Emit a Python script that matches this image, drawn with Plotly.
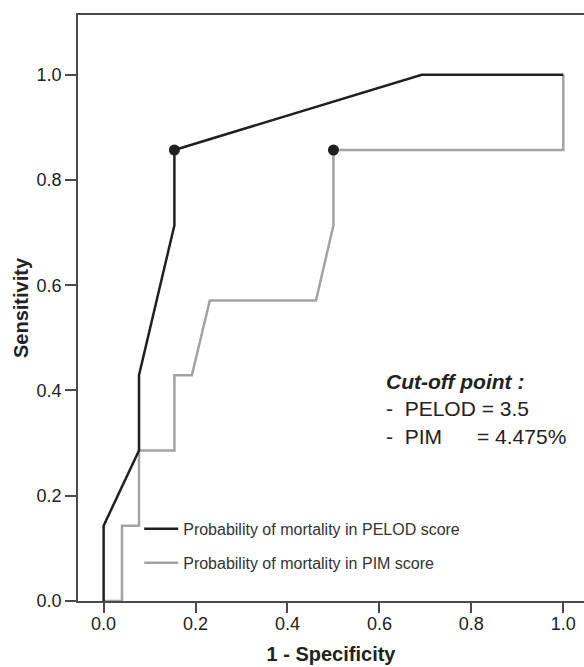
import plotly.graph_objects as go

# ROC data (1 - specificity, sensitivity)
pelod_fpr = [0.0, 0.0, 0.077, 0.077, 0.154, 0.154, 0.692, 1.0]
pelod_tpr = [0.0, 0.143, 0.286, 0.429, 0.714, 0.857, 1.0, 1.0]

pim_fpr = [0.0, 0.04, 0.04, 0.077, 0.077, 0.154, 0.154, 0.192, 0.231, 0.462, 0.5, 0.5, 1.0, 1.0]
pim_tpr = [0.0, 0.0, 0.143, 0.143, 0.286, 0.286, 0.429, 0.429, 0.571, 0.571, 0.714, 0.857, 0.857, 1.0]

cut_fpr = [0.154, 0.5]
cut_tpr = [0.857, 0.857]

x_ticks = [0.0, 0.2, 0.4, 0.6, 0.8, 1.0]
y_ticks = [0.0, 0.2, 0.4, 0.6, 0.8, 1.0]

FONT = "Liberation Sans, Arial, sans-serif"
BLACK = "#231f20"
GRAY = "#a3a3a3"
AXIS = "#4a4a4a"

fig = go.Figure()
fig.add_trace(go.Scatter(x=pim_fpr, y=pim_tpr, mode="lines", line=dict(color=GRAY, width=2.5),
                         name="Probability of mortality in PIM score", legendgroup="b", legendrank=2))
fig.add_trace(go.Scatter(x=pelod_fpr, y=pelod_tpr, mode="lines", line=dict(color=BLACK, width=2.5),
                         name="Probability of mortality in PELOD score", legendgroup="a", legendrank=1))
fig.add_trace(go.Scatter(x=cut_fpr, y=cut_tpr, mode="markers", marker=dict(color=BLACK, size=11),
                         showlegend=False, cliponaxis=False))

ann_font = dict(family=FONT, size=21, color="#222")
NB = "\u00a0"
fig.add_annotation(x=0.610, y=0.4167, xref="x", yref="y", text="<b><i>Cut-off point :</i></b>",
                   showarrow=False, xanchor="left", yanchor="middle", font=ann_font)
fig.add_annotation(x=0.610, y=0.3658, xref="x", yref="y", text="-" + NB * 2 + "PELOD = 3.5",
                   showarrow=False, xanchor="left", yanchor="middle", font=ann_font)
fig.add_annotation(x=0.610, y=0.3122, xref="x", yref="y", text="-" + NB * 2 + "PIM" + NB * 6 + "= 4.475%",
                   showarrow=False, xanchor="left", yanchor="middle", font=ann_font)

fig.update_layout(
    width=584, height=667,
    margin=dict(l=78, r=0, t=15, b=66),
    paper_bgcolor="white", plot_bgcolor="white",
    font=dict(family=FONT, color="#222"),
    showlegend=True,
    legend=dict(x=0.121, y=0.152, xanchor="left", yanchor="top", bgcolor="rgba(0,0,0,0)",
                font=dict(family=FONT, size=16, color="#333"), traceorder="grouped",
                tracegroupgap=10, itemwidth=34),
    xaxis=dict(range=[-0.0557, 1.045], tickvals=x_ticks, ticktext=[f"{v:.1f}" for v in x_ticks],
               showgrid=False, zeroline=False, showline=True, linecolor=AXIS, linewidth=1.5,
               mirror=True, ticks="outside", ticklen=10, tickwidth=1.5, tickcolor=AXIS,
               ticklabelstandoff=-4,
               tickfont=dict(family=FONT, size=18, color="#222"),
               title=dict(text="<b>1 - Specificity</b>", font=dict(family=FONT, size=20, color="#222"),
                          standoff=14)),
    yaxis=dict(range=[0, 1.1135], tickvals=y_ticks, ticktext=[f"{v:.1f}" for v in y_ticks],
               showgrid=False, zeroline=False, showline=True, linecolor=AXIS, linewidth=1.5,
               ticks="outside", ticklen=11, tickwidth=1.5, tickcolor=AXIS,
               tickfont=dict(family=FONT, size=18, color="#222"),
               title=dict(text="<b>Sensitivity</b>", font=dict(family=FONT, size=20, color="#222"),
                          standoff=3)),
)

fig.write_html("out.html", config={"displayModeBar": False},
               post_script="document.body.style.margin='0';")
